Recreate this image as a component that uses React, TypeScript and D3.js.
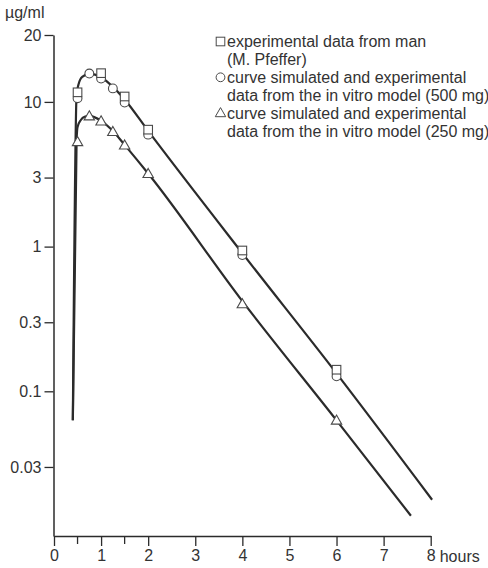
import * as d3 from "d3";
import { useEffect, useRef } from "react";

// experimental points (hours, µg/ml)
const manHours = [0.5, 1, 1.5, 2, 4, 6];
const manValues = [11.65, 15.8, 10.9, 6.43, 0.94, 0.141];
const model500Hours = [0.5, 0.75, 1, 1.25, 1.5, 2, 4, 6];
const model500Values = [10.6, 15.7, 14.5, 12.4, 9.9, 5.94, 0.874, 0.127];
const model250Hours = [0.5, 0.75, 1, 1.25, 1.5, 2, 4, 6];
const model250Values = [5.28, 7.95, 7.34, 6.2, 5.0, 3.18, 0.4, 0.0628];

// simulated curves
const curve500Hours = [0.4, 0.48, 0.52, 0.6, 0.75, 1.0, 1.25, 1.5, 2.0, 4, 6, 8.03];
const curve500Values = [0.063, 11.2, 13.2, 14.9, 15.6, 14.8, 12.7, 10.4, 6.3, 0.9, 0.133, 0.0178];
const curve250Hours = [0.4, 0.48, 0.5, 0.57, 0.65, 0.75, 1.0, 1.25, 1.5, 2.0, 4, 6, 7.58];
const curve250Values = [0.063, 5.5, 6.7, 7.5, 7.9, 8.0, 7.4, 6.3, 5.05, 3.2, 0.42, 0.063, 0.0138];

// axes
const xTicks = [0, 1, 2, 3, 4, 5, 6, 7, 8];
const xMinorTicks = [0.5, 1.5];
const yTicks = [29, 10, 3, 1, 0.3, 0.1, 0.03];
const yTickLabels = ["20", "10", "3", "1", "0.3", "0.1", "0.03"];

const legendLines = [
  "experimental data from man",
  "(M. Pfeffer)",
  "curve simulated and experimental",
  "data from the in vitro model (500 mg)",
  "curve simulated and experimental",
  "data from the in vitro model (250 mg)",
];
const legendSymbols = ["square", "", "circle", "", "triangle", ""];

export default function App() {
  const ref = useRef<SVGSVGElement>(null);

  useEffect(() => {
    document.body.style.margin = "0";
    const width = 488;
    const height = 568;
    const font = "'Liberation Sans', Arial, sans-serif";
    const ink = "#2b2b2b";

    const svg = d3.select(ref.current);
    svg.selectAll("*").remove();
    svg.attr("width", width).attr("height", height).style("background", "#fff");

    const x = d3.scaleLinear().domain([0, 8]).range([54, 430.7]);
    const y = d3.scaleLog().domain([0.01, 29]).range([536, 35]);

    // y axis
    const yAxis = d3
      .axisLeft(y)
      .tickValues(yTicks)
      .tickFormat((d, i) => yTickLabels[i])
      .tickSize(9)
      .tickSizeOuter(0)
      .tickPadding(3);
    const gy = svg.append("g").attr("transform", "translate(53.5,0)").call(yAxis);
    gy.select(".domain").attr("stroke", ink).attr("stroke-width", 1.5);
    gy.selectAll(".tick line").attr("stroke", ink).attr("stroke-width", 1.3);
    gy.selectAll(".tick text")
      .attr("fill", "#333")
      .style("font-family", font)
      .style("font-size", "16px");

    // x axis
    const xAxis = d3
      .axisBottom(x)
      .tickValues(xTicks)
      .tickFormat((d) => String(d))
      .tickSize(10)
      .tickSizeOuter(0)
      .tickPadding(4);
    const gx = svg.append("g").attr("transform", "translate(0,536)").call(xAxis);
    gx.select(".domain").attr("stroke", ink).attr("stroke-width", 1.5);
    gx.selectAll(".tick line").attr("stroke", ink).attr("stroke-width", 1.3);
    gx.selectAll(".tick text")
      .attr("fill", "#333")
      .style("font-family", font)
      .style("font-size", "16px");

    svg
      .append("g")
      .selectAll("line")
      .data(xMinorTicks)
      .join("line")
      .attr("x1", (d) => x(d))
      .attr("x2", (d) => x(d))
      .attr("y1", 536)
      .attr("y2", 544)
      .attr("stroke", ink)
      .attr("stroke-width", 1.3);

    svg
      .append("text")
      .attr("x", x(8) + 9)
      .attr("y", 562)
      .text("hours")
      .attr("fill", "#333")
      .style("font-family", font)
      .style("font-size", "16px");

    svg
      .append("text")
      .attr("x", 5)
      .attr("y", 18)
      .text("µg/ml")
      .attr("fill", "#333")
      .style("font-family", font)
      .style("font-size", "16px");

    // curves
    const line = d3
      .line<[number, number]>()
      .x((d) => x(d[0]))
      .y((d) => y(d[1]))
      .curve(d3.curveMonotoneX);

    const curves: [number, number][][] = [
      curve500Hours.map((t, i) => [t, curve500Values[i]]),
      curve250Hours.map((t, i) => [t, curve250Values[i]]),
    ];
    svg
      .append("g")
      .selectAll("path")
      .data(curves)
      .join("path")
      .attr("d", (d) => line(d))
      .attr("fill", "none")
      .attr("stroke", ink)
      .attr("stroke-width", 2.2);

    // markers
    const drawMarker = (g: any, kind: string, cx: number, cy: number) => {
      if (kind === "square") {
        g.append("rect")
          .attr("x", cx - 4.3)
          .attr("y", cy - 4.3)
          .attr("width", 8.6)
          .attr("height", 8.6);
      } else if (kind === "circle") {
        g.append("circle").attr("cx", cx).attr("cy", cy).attr("r", 4.4);
      } else {
        g.append("path").attr(
          "d",
          `M${cx},${cy - 5.5}L${cx + 5.2},${cy + 3.6}L${cx - 5.2},${cy + 3.6}Z`
        );
      }
    };

    const markers = svg
      .append("g")
      .attr("fill", "#fff")
      .attr("stroke", "#4a4a4a")
      .attr("stroke-width", 1.1);
    model250Hours.forEach((t, i) => drawMarker(markers, "triangle", x(t), y(model250Values[i])));
    model500Hours.forEach((t, i) => drawMarker(markers, "circle", x(t), y(model500Values[i])));
    manHours.forEach((t, i) => drawMarker(markers, "square", x(t), y(manValues[i])));

    // legend
    const legend = svg.append("g");
    legendLines.forEach((txt, i) => {
      const by = 47 + i * 17.9;
      legend
        .append("text")
        .attr("x", 227)
        .attr("y", by)
        .text(txt)
        .attr("fill", "#333")
        .style("font-family", font)
        .style("font-size", "16px");
      if (legendSymbols[i]) {
        const lg = legend
          .append("g")
          .attr("fill", "#fff")
          .attr("stroke", "#4a4a4a")
          .attr("stroke-width", 1);
        drawMarker(lg, legendSymbols[i], 220.5, by - 5.5);
      }
    });
  }, []);

  return <svg ref={ref}></svg>;
}
